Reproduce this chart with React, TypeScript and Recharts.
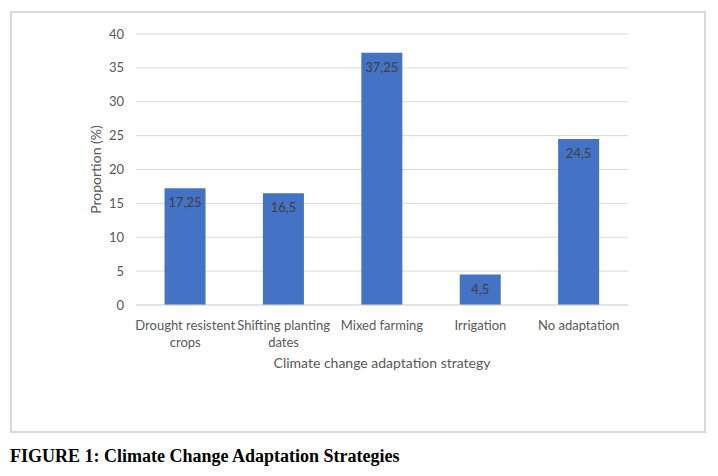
import React from "react";
import { BarChart, Bar, CartesianGrid, XAxis, YAxis, LabelList, Label } from "recharts";

const strategies = [
  "Drought resistent\ncrops",
  "Shifting planting\ndates",
  "Mixed farming",
  "Irrigation",
  "No adaptation",
];
const proportions = [17.25, 16.5, 37.25, 4.5, 24.5];
const yTicks = [0, 5, 10, 15, 20, 25, 30, 35, 40];

const data = strategies.map((s, i) => ({ strategy: s, value: proportions[i] }));

const FONT = "Lato, 'Noto Sans', sans-serif";

function WrappedTick(props: any) {
  const { x, y, payload } = props;
  const lines = String(payload.value).split("\n");
  return (
    <text
      x={x}
      y={y}
      textAnchor="middle"
      fill="#595959"
      fontSize={13}
      fontFamily={FONT}
    >
      {lines.map((l, i) => (
        <tspan key={i} x={x} dy={17}>
          {l}
        </tspan>
      ))}
    </text>
  );
}

export default function App() {
  return (
    <div style={{ position: "absolute", left: 0, top: 0, width: 718, height: 476, background: "#fff" }}>
      <div
        style={{
          position: "absolute",
          left: 10,
          top: 11,
          width: 696,
          height: 422,
          boxSizing: "border-box",
          border: "2px solid #d9d9d9",
        }}
      />
      <div style={{ position: "absolute", left: 0, top: 0 }}>
        <BarChart
          width={718}
          height={476}
          data={data}
          margin={{ top: 34, right: 90, bottom: 101, left: 76 }}
          barCategoryGap="29%"
        >
          <CartesianGrid vertical={false} stroke="#d9d9d9" />
          <XAxis
            dataKey="strategy"
            height={70}
            interval={0}
            tickLine={false}
            axisLine={{ stroke: "#d9d9d9" }}
            tick={<WrappedTick />}
          >
            <Label
              value="Climate change adaptation strategy"
              position="insideBottom"
              offset={7}
              fill="#595959"
              fontSize={14}
              fontFamily={FONT}
            />
          </XAxis>
          <YAxis
            width={60}
            domain={[0, 40]}
            ticks={yTicks}
            tickLine={false}
            tickSize={0}
            tickMargin={12}
            axisLine={false}
            tick={{ fill: "#595959", fontSize: 13, fontFamily: FONT }}
          >
            <Label
              value="Proportion (%)"
              angle={-90}
              position="insideLeft"
              offset={20}
              fill="#595959"
              fontSize={14}
              fontFamily={FONT}
              style={{ textAnchor: "middle" }}
            />
          </YAxis>
          <Bar dataKey="value" fill="#4472c4" isAnimationActive={false}>
            <LabelList
              dataKey="value"
              position="insideTop"
              offset={10}
              fill="#404040"
              fontSize={13}
              fontFamily={FONT}
              formatter={(v: any) => String(v).replace(".", ",")}
            />
          </Bar>
        </BarChart>
      </div>
      <div
        style={{
          position: "absolute",
          left: 10,
          top: 446,
          fontFamily: "'Liberation Serif', 'Times New Roman', serif",
          fontWeight: "bold",
          fontSize: 18,
          color: "#000",
          whiteSpace: "nowrap",
        }}
      >
        FIGURE 1: Climate Change Adaptation Strategies
      </div>
    </div>
  );
}
